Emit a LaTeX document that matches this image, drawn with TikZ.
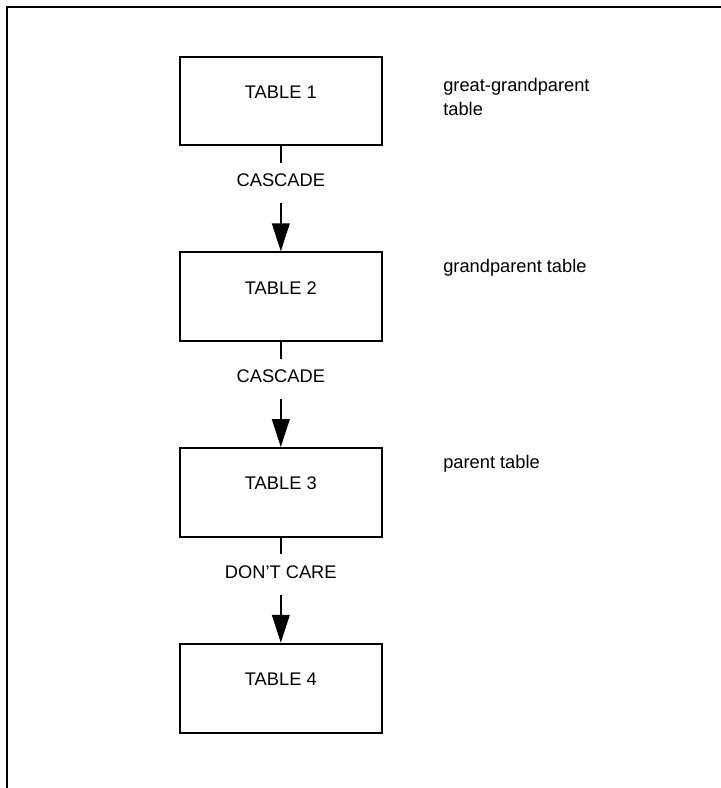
\documentclass[tikz,border=0pt]{standalone}
\usepackage{fontspec}
\setmainfont{Liberation Sans}
\usetikzlibrary{arrows.meta,positioning}

\begin{document}
\begin{tikzpicture}[
    tablebox/.style={draw, line width=1.4pt, minimum width=5.04cm,
        minimum height=2.22cm, inner sep=0pt},
    rulelabel/.style={inner sep=0pt, text height=0.5875cm, text depth=0.4125cm},
    note/.style={anchor=north west, inner sep=0pt, align=left},
    link/.style={line width=1.4pt},
    every node/.style={font=\fontsize{13}{17}\selectfont}
]
    \useasboundingbox (0,0) rectangle (18.025,-19.7);
    % frame
    \draw[line width=1.4pt] (0.175,-19.7) -- (0.175,-0.17) -- (18.025,-0.17);

    \node[tablebox] (t1) at (7.02,-2.525) {};
    \node (t1name) at ([yshift=0.225cm]t1.center) {TABLE 1};
    \node[rulelabel, below=0.41cm of t1] (r1) {CASCADE};

    \node[tablebox, below=1.2cm of r1] (t2) {};
    \node (t2name) at ([yshift=0.225cm]t2.center) {TABLE 2};
    \node[rulelabel, below=0.41cm of t2] (r2) {CASCADE};

    \node[tablebox, below=1.2cm of r2] (t3) {};
    \node (t3name) at ([yshift=0.225cm]t3.center) {TABLE 3};
    \node[rulelabel, below=0.41cm of t3] (r3) {DON’T CARE};

    \node[tablebox, below=1.2cm of r3] (t4) {};
    \node (t4name) at ([yshift=0.225cm]t4.center) {TABLE 4};

    \foreach \a/\b in {1/2,2/3,3/4} {
        \draw[link] (t\a) -- (r\a);
        \draw[link, -{Triangle[length=0.7cm, width=0.44cm]}] (r\a) -- (t\b);
    }

    \node[note] (n1) at (11.075,-1.95) {great-grandparent\\table};
    \node[note] (n2) at (11.075,-6.475) {grandparent table};
    \node[note] (n3) at (11.075,-11.375) {parent table};
\end{tikzpicture}
\end{document}
